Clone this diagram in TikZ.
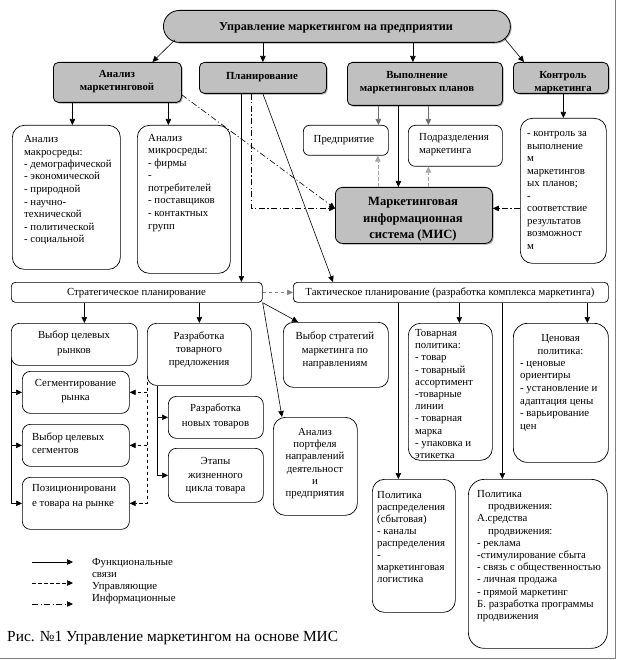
\documentclass[tikz,border=0pt]{standalone}
\usepackage{fontspec}
\setmainfont{Liberation Serif}
\usetikzlibrary{arrows.meta,shadows,calc}
\definecolor{boxgray}{HTML}{C0C0C0}
\newcommand\BX[6][]{%
  \pgfmathsetmacro\bw{#5-#3}\pgfmathsetmacro\bh{#6-#4}%
  \node[#1,minimum width=\bw pt,minimum height=\bh pt,anchor=north west] (#2) at (#3,#4) {};}
\newcommand\fs[1]{\fontsize{10.8}{#1}\selectfont}
\tikzset{
  gbox/.style={draw, fill=boxgray, rounded corners=5pt, line width=0.8pt,
     drop shadow={shadow xshift=1.2pt,shadow yshift=-1.2pt,opacity=0.5,fill=black!70}},
  wbox/.style={draw, fill=white, rounded corners=10pt, line width=0.7pt},
  txt/.style={font=\fs{12.5}, inner sep=0pt, align=left},
  ctxt/.style={txt, align=center},
  btxt/.style={font=\bfseries\fontsize{10.8}{13}\selectfont, inner sep=0pt, align=center},
  fn/.style={-{Triangle[length=6pt,width=5.5pt]}, line width=0.6pt},
  ctl/.style={fn, dash pattern=on 3.5pt off 2.5pt},
  inf/.style={fn, dash pattern=on 6pt off 2.5pt on 1.2pt off 2.5pt},
  gry/.style={draw=gray!85!black},
}
\begin{document}
\begin{tikzpicture}[x=1pt,y=-1pt]
\useasboundingbox (0,0) rectangle (618,660);
\draw[gray, line width=1pt] (615.5,0) -- (615.5,658) -- (0,658);
% level 1 and 2
\BX[gbox, rounded corners=16pt]{top}{163}{10}{510}{42}
\BX[gbox]{ana}{53}{62}{181}{102}
\BX[gbox]{plan}{199}{62}{326}{93}
\BX[gbox]{vyp}{347}{62}{502}{105}
\BX[gbox]{kon}{513}{62}{608}{93}
\BX[gbox, rounded corners=7pt]{mis}{335}{187}{492}{243}
% white boxes
\BX[wbox, rounded corners=12pt]{makro}{12}{125}{120}{269}
\BX[wbox, rounded corners=12pt]{mikro}{137}{125}{230}{273}
\BX[wbox, rounded corners=6pt]{pred}{303}{125}{388}{155}
\BX[wbox, rounded corners=7pt]{podr}{408}{125}{502}{166}
\BX[wbox, rounded corners=12pt]{ctrl}{520}{118}{606}{263}
\BX[wbox, rounded corners=4pt]{strat}{11}{282}{262}{302}
\BX[wbox, rounded corners=4pt]{takt}{293}{282}{608}{302}
\BX[wbox, rounded corners=8pt]{vcr}{11}{323}{137}{365}
\BX[wbox, rounded corners=9pt]{rtp}{147}{323}{251}{385}
\BX[wbox, rounded corners=10pt]{vsm}{283}{322}{388}{387}
\BX[wbox, rounded corners=12pt]{port}{273}{417}{357}{515}
\BX[wbox, rounded corners=8pt]{seg}{22}{371}{129}{413}
\BX[wbox, rounded corners=8pt]{vcs}{22}{424}{129}{466}
\BX[wbox, rounded corners=8pt]{poz}{22}{477}{129}{529}
\BX[wbox, rounded corners=8pt]{rnt}{168}{396}{263}{438}
\BX[wbox, rounded corners=8pt]{etap}{168}{448}{263}{502}
\BX[wbox, rounded corners=12pt]{tov}{408}{323}{492}{460}
\BX[wbox, rounded corners=14pt]{cen}{513}{323}{608}{462}
\BX[wbox, rounded corners=12pt]{rasp}{372}{479}{455}{612}
\BX[wbox, rounded corners=16pt]{prod}{468}{479}{607}{648}
% texts in grey boxes (anchor base = baseline of last line)
\node[btxt, font=\bfseries\fontsize{12.2}{13}\selectfont, anchor=base] at (336,30.5) {Управление маркетингом на предприятии};
\node[btxt, anchor=base] at (117,90.5) {Анализ\\маркетинговой};
\node[btxt, anchor=base] at (262,79.5) {Планирование};
\node[btxt, anchor=base] at (417,91.5) {Выполнение\\маркетинговых планов};
\node[btxt, anchor=base] at (563,91.5) {Контроль\\маркетинга};
\node[btxt, font=\bfseries\fontsize{12.6}{16.5}\selectfont, anchor=base] at (413,238.5) {Маркетинговая\\информационная\\система (МИС)};
% texts in white boxes
\node[txt, anchor=base west] at (24,242.5) {Анализ\\макросреды:\\- демографической\\- экономической\\- природной\\- научно-\\технической\\- политической\\- социальной};
\node[txt, anchor=base west] at (148,229) {Анализ\\микросреды:\\- фирмы\\-\\потребителей\\- поставщиков\\- контактных\\групп};
\node[txt, anchor=base] at (344,142.5) {Предприятие};
\node[txt, anchor=base west] at (419,153.5) {Подразделения\\маркетинга};
\node[txt, anchor=base west] at (527,249) {- контроль за\\выполнение\\м\\маркетингов\\ых планов;\\-\\соответствие\\результатов\\возможност\\м};
\node[txt, anchor=base] at (136.5,295.5) {Стратегическое планирование};
\node[txt, anchor=base] at (450,295.5) {Тактическое планирование (разработка комплекса маркетинга)};
\node[ctxt, font=\fs{15}, anchor=base] at (74,353.5) {Выбор целевых\\рынков};
\node[ctxt, font=\fs{13}, anchor=base] at (199,365.5) {Разработка\\товарного\\предложения};
\node[ctxt, font=\fs{13.5}, anchor=base] at (335,366.5) {Выбор стратегий\\маркетинга по\\направлениям};
\node[ctxt, font=\fs{14}, anchor=base] at (75.5,400.5) {Сегментирование\\рынка};
\node[txt, font=\fs{12.5}, anchor=base west] at (32,453) {Выбор целевых\\сегментов};
\node[txt, font=\fs{15}, anchor=base west] at (32,506.5) {Позиционировани\\е товара на рынке};
\node[ctxt, font=\fs{15}, anchor=base] at (215.5,426.5) {Разработка\\новых товаров};
\node[ctxt, font=\fs{13.5}, anchor=base] at (215.5,491.5) {Этапы\\жизненного\\цикла товара};
\node[ctxt, font=\fs{12.2}, anchor=base] at (315,496.5) {Анализ\\портфеля\\направлений\\деятельност\\и\\предприятия};
\node[txt, font=\fs{12.2}, anchor=base west] at (415,458.5) {Товарная\\политика:\\- товар\\- товарный\\ассортимент\\-товарные\\линии\\- товарная\\марка\\- упаковка и\\этикетка};
\node[ctxt, anchor=base] at (560.5,354) {Ценовая\\политика:};
\node[txt, font=\fs{12.7}, anchor=base west] at (520,429.5) {- ценовые\\ориентиры\\- установление и\\адаптация цены\\- варьирование\\цен};
\node[txt, font=\fs{12}, anchor=base west] at (377,582.5) {Политика\\распределения\\(сбытовая)\\- каналы\\распределения\\-\\маркетинговая\\логистика};
\node[txt, font=\fs{12.2}, anchor=base west] at (477,619.5) {Политика\\\hspace*{11pt}продвижения:\\А.средства\\\hspace*{11pt}продвижения:\\- реклама\\-стимулирование сбыта\\- связь с общественностью\\- личная продажа\\- прямой маркетинг\\Б. разработка программы\\продвижения};
% connectors
\draw[fn] ([xshift=12pt,yshift=3pt]top.south west) -- ([xshift=35pt]ana.north);
\draw[fn] (plan.north |- top.south) -- (plan.north);
\draw[fn] ([xshift=-12pt]vyp.north |- top.south) -- ([xshift=-12pt]vyp.north);
\draw[fn] ([xshift=-6pt,yshift=4pt]top.south east) -- ([xshift=11pt]kon.north west);
\draw[fn] ([xshift=-45pt]ana.south) -- ([xshift=-45pt]ana.south |- makro.north);
\draw[fn] ([xshift=51pt]ana.south) -- ([xshift=51pt]ana.south |- mikro.north);
\draw[fn] ([xshift=-21.5pt]plan.south) -- ([xshift=-21.5pt]plan.south |- strat.north);
\coordinate (misw) at ([yshift=7pt]mis.west);
\coordinate (mise) at ([yshift=7pt]mis.east);
\draw[inf] ([xshift=-11.5pt]plan.south) |- (misw);
\draw[inf] ([yshift=8pt]ana.south east) -- (misw);
\draw[fn] (plan.south) -- ([xshift=40pt]takt.north west);
\draw[fn, gry] ([xshift=32.5pt]pred.north |- vyp.south) -- ([xshift=32.5pt]pred.north);
\draw[fn, gry] ([xshift=-27pt]podr.north |- vyp.south) -- ([xshift=-27pt]podr.north);
\draw[fn] ([xshift=-15.5pt]mis.north |- vyp.south) -- ([xshift=-15.5pt]mis.north);
\draw[ctl, draw=gray!70] ([xshift=32pt]pred.south |- mis.north) -- ([xshift=32pt]pred.south);
\draw[ctl, draw=gray!70] ([xshift=-27pt]podr.south |- mis.north) -- ([xshift=-27pt]podr.south);
\draw[fn] (ctrl.north |- kon.south) -- (ctrl.north);
\draw[inf] (mise -| ctrl.west) -- (mise);
\draw[ctl, draw=gray] (strat.east) -- (takt.west);
\draw[fn] ([xshift=10pt]vcr.north |- strat.south) -- ([xshift=10pt]vcr.north);
\draw[fn] (rtp.north |- strat.south) -- (rtp.north);
\draw[fn] (strat.south east) -- ([xshift=15pt]vsm.north west);
\draw[fn] (strat.south east) -- ([xshift=9pt]port.north west);
\draw[fn] ([yshift=8pt]vcr.south west) |- (poz.west);
\draw[fn] (seg.west -| vcr.west) -- (seg.west);
\draw[fn] (vcs.west -| vcr.west) -- (vcs.west);
\draw[ctl] ([yshift=10pt]rtp.south west) |- (poz.east);
\draw[ctl] (seg.east -| rtp.west) -- (seg.east);
\draw[ctl] (vcs.east -| rtp.west) -- (vcs.east);
\coordinate (rtpl) at ([xshift=10pt]rtp.south west);
\draw[fn] (rtpl) |- (etap.west);
\draw[fn] (rnt.west -| rtpl) -- (rnt.west);
\draw[fn] ([xshift=-15.5pt]rasp.north |- takt.south) -- ([xshift=-15.5pt]rasp.north);
\draw[fn] ([xshift=-35.5pt]prod.north |- takt.south) -- ([xshift=-35.5pt]prod.north);
\draw[fn] ([xshift=9pt]tov.north |- takt.south) -- ([xshift=9pt]tov.north);
\draw[fn] ([xshift=26.5pt]cen.north |- takt.south) -- ([xshift=26.5pt]cen.north);
% legend
\coordinate (l1a) at (32,562); \coordinate (l1b) at (73,562);
\coordinate (l2a) at (32,583); \coordinate (l2b) at (73,583);
\coordinate (l3a) at (32,604); \coordinate (l3b) at (73,604);
\draw[fn] (l1a) -- (l1b);
\draw[ctl] (l2a) -- (l2b);
\draw[inf] (l3a) -- (l3b);
\node[txt, font=\fs{12}, anchor=base west] (leg) at (92,601.5) {Функциональные\\связи\\Управляющие\\Информационные};
\node[txt, font=\fontsize{15.4}{17}\selectfont, anchor=base west] (cap) at (7,641) {Рис. №1 Управление маркетингом на основе МИС};
\end{tikzpicture}
\end{document}
